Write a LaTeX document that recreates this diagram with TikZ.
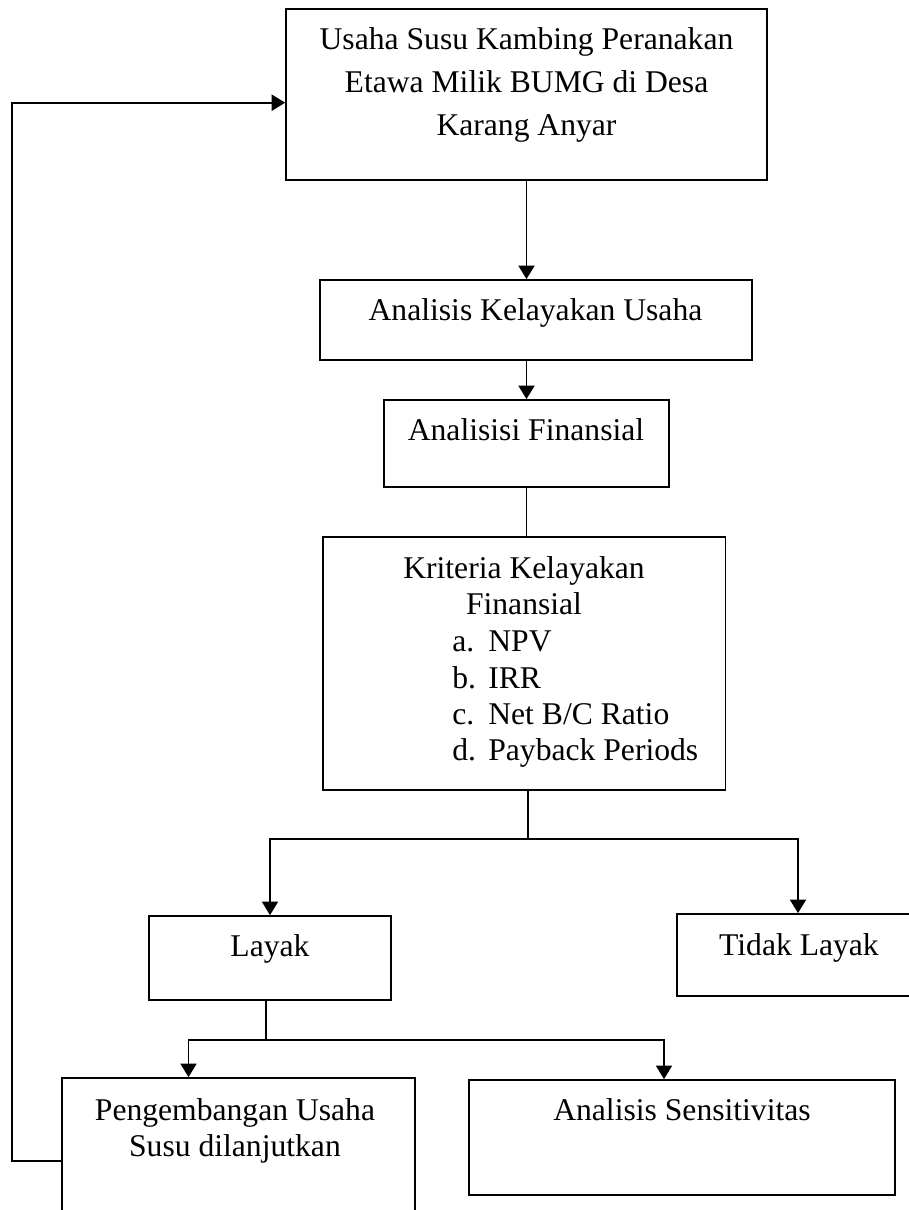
\documentclass[tikz,border=0pt]{standalone}
\usepackage{fontspec}
\setmainfont{Liberation Serif}
\usetikzlibrary{arrows.meta}

\tikzset{
  box/.style={draw, line width=1pt, inner sep=0},
  txt/.style={inner sep=0, anchor=base, font=\fontsize{18}{21}\selectfont},
  link/.style={line width=0.95pt},
  arr/.style={line width=0.95pt, -{Triangle[length=0.27cm,width=0.32cm]}},
}
\newcommand{\lines}[1]{\begin{tabular}[t]{@{}c@{}}#1\end{tabular}}

\begin{document}
\begin{tikzpicture}[x=0.02cm,y=-0.02cm]
			\useasboundingbox (0,0) rectangle (909,1210);
			\clip (0,0) rectangle (909,1210);

			% boxes
			\node[box, minimum width=9.62cm, minimum height=3.42cm] (usaha) at (526.5,94.5) {};
			\node[box, minimum width=8.64cm, minimum height=1.60cm] (kelayakan) at (536,320) {};
			\node[box, minimum width=5.70cm, minimum height=1.74cm] (finansial) at (526.5,443.5) {};
			\node[box, minimum width=8.05cm, minimum height=5.06cm] (kriteria) at (524.25,663.5) {};
			\node[box, minimum width=4.84cm, minimum height=1.68cm] (layak) at (270,958) {};
			\node[box, minimum width=5.16cm, minimum height=1.64cm] (tidak) at (806,955) {};
			\node[box, minimum width=7.06cm, minimum height=3.32cm] (kembang) at (238.5,1161) {};
			\node[box, minimum width=8.52cm, minimum height=2.30cm] (sensitif) at (682,1137.5) {};

			% box texts
			\node[txt, font=\fontsize{18}{24.2}\selectfont] (usahatxt) at (526.5,50)
				{\lines{Usaha Susu Kambing Peranakan\\Etawa Milik BUMG di Desa\\Karang Anyar}};
			\node[txt] (kelayakantxt) at (535.5,320.7) {Analisis Kelayakan Usaha};
			\node[txt] (finansialtxt) at (526,440.7) {Analisisi Finansial};
			\node[txt] (kriteriatxt) at (524,578) {\lines{Kriteria Kelayakan\\Finansial}};
			\node[txt, anchor=base west, font=\fontsize{18}{20.7}\selectfont] (kriterialist) at (452,651.7)
				{\begin{tabular}[t]{@{}p{0.72cm}@{}l@{}}
				a. & NPV\\
				b. & IRR\\
				c. & Net B/C Ratio\\
				d. & Payback Periods
				\end{tabular}};
			\node[txt] (layaktxt) at (270,956.7) {Layak};
			\node[txt] (tidaktxt) at (799,955) {Tidak Layak};
			\node[txt] (kembangtxt) at (235,1120) {\lines{Pengembangan Usaha\\Susu dilanjutkan}};
			\node[txt] (sensitiftxt) at (682,1120) {Analisis Sensitivitas};

			% split points
			\coordinate (split1) at (528,839);
			\coordinate (split2) at (266,1040);
			\coordinate (back) at (12,1161);

			% arrows down the middle
			\draw [arr] (usaha.south) -- (usaha.south |- kelayakan.north) ;
			\draw [arr] (finansial.north |- kelayakan.south) -- (finansial.north) ;
			\draw [link] (finansial.south) -- (finansial.south |- kriteria.north) ;

			% layak / tidak layak
			\draw [link] (split1 |- kriteria.south) -- (split1) ;
			\draw [arr] (split1) -| (layak.north) ;
			\draw [arr] (split1) -| ([xshift=-0.16cm]tidak.north) ;

			% after layak
			\draw [link] (split2 |- layak.south) -- (split2) ;
			\draw [arr] (split2) -| ([xshift=-1.0cm]kembang.north) ;
			\draw [arr] (split2) -| ([xshift=-0.36cm]sensitif.north) ;

			% back to the start
			\draw [arr, line width=1.15pt] (kembang.west) -- (back) |- ([yshift=-0.164cm]usaha.west) ;

\end{tikzpicture}
\end{document}
